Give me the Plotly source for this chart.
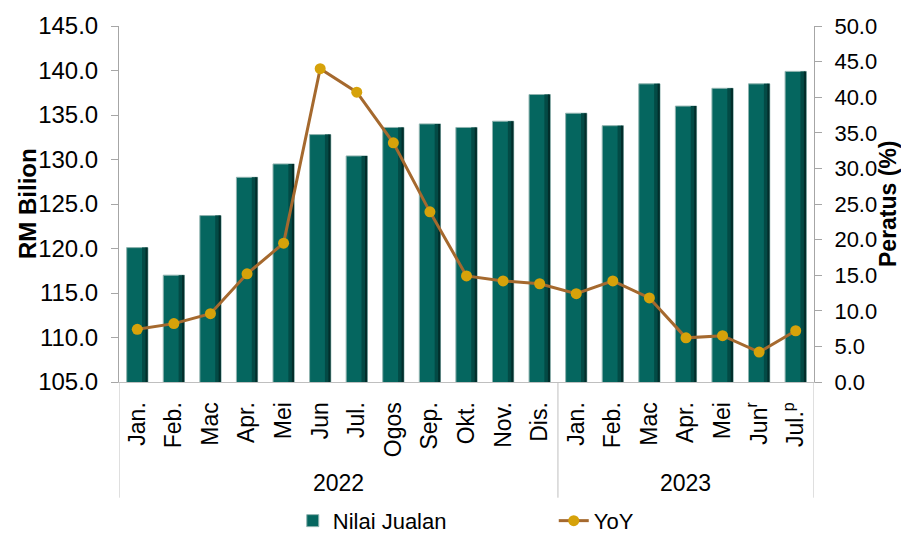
import plotly.graph_objects as go

# ---- data ----
years = ["2022", "2023"]
months_2022 = ["Jan.", "Feb.", "Mac", "Apr.", "Mei", "Jun", "Jul.", "Ogos", "Sep.", "Okt.", "Nov.", "Dis."]
months_2023 = ["Jan.", "Feb.", "Mac", "Apr.", "Mei", "Jun<sup>r</sup>", "Jul.<sup>p</sup>"]
nilai_jualan = [120.1, 117.0, 123.7, 128.0, 129.5, 132.8, 130.4, 133.6, 134.0, 133.6, 134.3, 137.3,
                135.2, 133.8, 138.5, 136.0, 138.0, 138.5, 139.9]
yoy = [7.4, 8.2, 9.6, 15.2, 19.5, 44.0, 40.7, 33.6, 23.9, 14.9, 14.2, 13.8,
       12.4, 14.2, 11.8, 6.2, 6.5, 4.2, 7.2]

labels = months_2022 + months_2023
x = list(range(len(labels)))

FONT = "Liberation Sans, Arial, sans-serif"
BAR = "#05665F"
BAR_DARK = "#034A45"
BAR_DARKER = "#022E2B"
AXIS = "#A6A6A6"

bw = 0.58
fig = go.Figure()
fig.add_trace(go.Bar(x=x, y=nilai_jualan, name="Nilai Jualan", width=bw,
                     marker=dict(color=BAR, line=dict(color="#8FB3AF", width=1))))
# shading strips to mimic cylindrical bars
fig.add_trace(go.Bar(x=x, y=nilai_jualan, width=0.12, offset=bw / 2 - 0.16, showlegend=False,
                     hoverinfo="skip", marker=dict(color=BAR_DARK, line=dict(width=0))))
fig.add_trace(go.Bar(x=x, y=nilai_jualan, width=0.06, offset=bw / 2 - 0.065, showlegend=False,
                     hoverinfo="skip", marker=dict(color=BAR_DARKER, line=dict(width=0))))
fig.add_trace(go.Scatter(x=x, y=yoy, name="YoY", yaxis="y2", mode="lines+markers",
                         line=dict(color="#A5692E", width=3),
                         marker=dict(color="#D6A20A", size=11)))

n22 = len(months_2022)
n = len(labels)
shapes = []
for xv in [-0.5, n22 - 0.5, n - 0.5]:
    shapes.append(dict(type="line", xref="x", yref="paper", x0=xv, x1=xv, y0=0, y1=-0.325,
                       line=dict(color="#BFBFBF", width=1)))

annotations = [
    dict(text=years[0], xref="x", yref="paper", x=(n22 - 1) / 2, y=-0.285, showarrow=False,
         font=dict(size=23, family=FONT, color="black"), yanchor="middle"),
    dict(text=years[1], xref="x", yref="paper", x=(n22 + n - 1) / 2, y=-0.285, showarrow=False,
         font=dict(size=23, family=FONT, color="black"), yanchor="middle"),
    dict(text="<b>RM Bilion</b>", xref="paper", yref="paper", x=0, y=0.5, xshift=-92,
         textangle=-90, showarrow=False, xanchor="center", yanchor="middle",
         font=dict(size=24, family=FONT, color="black")),
    dict(text="<b>Peratus (%)</b>", xref="paper", yref="paper", x=1, y=0.5, xshift=74,
         textangle=-90, showarrow=False, xanchor="center", yanchor="middle",
         font=dict(size=23, family=FONT, color="black")),
]

fig.update_layout(
    width=909, height=533,
    margin=dict(l=111, r=103, t=18, b=159, autoexpand=False),
    plot_bgcolor="white", paper_bgcolor="white",
    barmode="overlay", bargap=0.42,
    font=dict(family=FONT, size=23, color="black"),
    showlegend=True,
    legend=dict(orientation="h", x=0.25, xanchor="left", y=-0.39, yanchor="middle",
                entrywidth=216, entrywidthmode="pixels", font=dict(size=22),
                itemwidth=30, traceorder="normal"),
    xaxis=dict(tickmode="array", tickvals=x, ticktext=labels, tickangle=-90,
               range=[-0.5, n - 0.5], showgrid=False, zeroline=False, automargin=False,
               showline=True, linecolor="#BFBFBF", ticks="", ticklabelstandoff=10,
               tickfont=dict(size=23)),
    yaxis=dict(range=[105, 145], dtick=5, tickformat=".1f", showgrid=False, zeroline=False,
               showline=True, linecolor=AXIS, ticks="outside", ticklen=7, tickcolor=AXIS,
               ticklabelstandoff=8, tickfont=dict(size=24), automargin=False),
    yaxis2=dict(range=[0, 50], dtick=5, tickformat=".1f", overlaying="y", side="right",
                showgrid=False, zeroline=False, showline=True, linecolor=AXIS, automargin=False,
                ticks="outside", ticklen=7, tickcolor=AXIS, ticklabelstandoff=8,
                tickfont=dict(size=22)),
    shapes=shapes,
    annotations=annotations,
)

fig.write_html("out.html")
